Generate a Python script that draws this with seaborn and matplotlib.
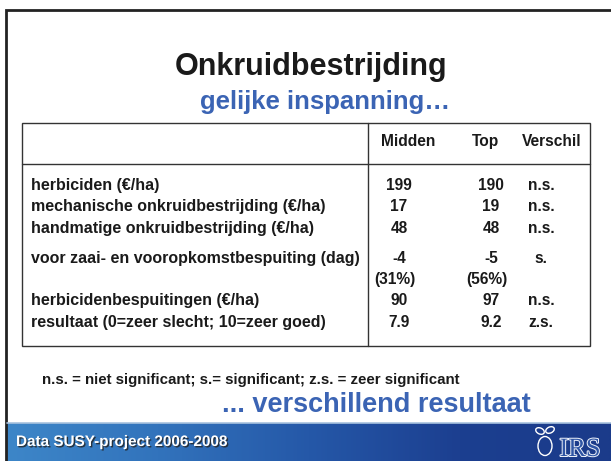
import numpy as np
import matplotlib
matplotlib.use("Agg")
import matplotlib.pyplot as plt
import matplotlib.patheffects as pe
from matplotlib.colors import LinearSegmentedColormap
from matplotlib.patches import Rectangle, Ellipse
import seaborn as sns

# Table content
row_labels = [
    "herbiciden (€/ha)",
    "mechanische onkruidbestrijding (€/ha)",
    "handmatige onkruidbestrijding (€/ha)",
    "voor zaai- en vooropkomstbespuiting (dag)",
    "herbicidenbespuitingen (€/ha)",
    "resultaat (0=zeer slecht; 10=zeer goed)",
]
col_headers = ["Midden", "Top", "Verschil"]
midden = [199, 17, 48, -4, 90, 7.9]
top = [190, 19, 48, -5, 97, 9.2]
midden_pct = [None, None, None, 31, None, None]
top_pct = [None, None, None, 56, None, None]
verschil = ["n.s.", "n.s.", "n.s.", "s.", "n.s.", "z.s."]

title = "Onkruidbestrijding"
subtitle = "gelijke inspanning…"
footnote = "n.s. = niet significant; s.= significant; z.s. = zeer significant"
conclusion = "... verschillend resultaat"
footer = "Data SUSY-project 2006-2008"

# Layout (pixel coordinates of the slide)
W, H = 611, 461
row_y = [185, 206.5, 228, 258, 300, 322.5]
pct_dy = 21
col_x = [399, 491, 541]
header_x = [408, 485, 522]
blue = "#3b64b4"
ink = "#1a1a1a"
fs = 11.2

sns.set_theme(style="white")
plt.rcParams["font.family"] = ["Liberation Sans", "DejaVu Sans"]

fig = plt.figure(figsize=(W / 100, H / 100), dpi=100)
ax = fig.add_axes([0, 0, 1, 1])
ax.set_xlim(0, W)
ax.set_ylim(H, 0)
ax.axis("off")

# slide frame
ax.plot([6, 6, W + 5], [H + 5, 10.5, 10.5], color="#222222", lw=2.0, solid_joinstyle="miter")

# footer band with gradient
cmap = LinearSegmentedColormap.from_list("foot", ["#3d86c8", "#3273bc", "#2558a8", "#1c3f90", "#1b3b8a"])
grad = np.tile(np.linspace(0, 1, 300), (20, 1))
ax.imshow(grad, cmap=cmap, extent=[7, W, H, 423], aspect="auto", zorder=1)
ax.plot([7, W], [423, 423], color="#a8c2de", lw=1.2, zorder=2)
ft = ax.text(16, 442, footer, color="white", fontsize=11, fontweight="bold",
             ha="left", va="center", zorder=3)
ft.set_path_effects([pe.withSimplePatchShadow(offset=(1, -1), shadow_rgbFace="#222222", alpha=0.8)])

# IRS logo
irs = ax.text(580, 456, "IRS", family="Liberation Serif", fontsize=19, color="#2f55a4",
              ha="center", va="baseline", zorder=3)
irs.set_path_effects([pe.Stroke(linewidth=1.4, foreground="#eef2fa"), pe.Normal()])
ax.add_patch(Ellipse((545, 446), 14, 19, fill=False, ec="white", lw=1.0, zorder=3))
ax.add_patch(Ellipse((540, 431), 9, 6, angle=25, fill=False, ec="white", lw=1.0, zorder=3))
ax.add_patch(Ellipse((550, 430), 9, 6, angle=-25, fill=False, ec="white", lw=1.0, zorder=3))

# titles
ax.text(311, 75, title, fontsize=22, fontweight="bold", color=ink,
        ha="center", va="baseline")
ax.text(325, 109, subtitle, fontsize=18.5, fontweight="bold", color=blue,
        ha="center", va="baseline")

# table frame
ax.add_patch(Rectangle((22, 123), 568, 223, fill=False, ec="#333333", lw=1.0))
ax.plot([22, 590], [164.5, 164.5], color="#333333", lw=1.0)
ax.plot([368, 368], [123, 346], color="#333333", lw=1.0)

clip = Rectangle((22, 123), 568, 223, transform=ax.transData)
for x, h in zip(header_x, col_headers):
    ha = "left" if h == "Verschil" else "center"
    t = ax.text(x, 141, h, fontsize=fs, fontweight="bold", color=ink, ha=ha, va="center")
    t.set_clip_path(clip)

def fmt(v):
    return f"{v:g}"

for i, lab in enumerate(row_labels):
    y = row_y[i]
    ax.text(31, y, lab, fontsize=11.5, fontweight="bold", color=ink, ha="left", va="center")
    for x, vals, pcts in ((col_x[0], midden, midden_pct), (col_x[1], top, top_pct)):
        ax.text(x, y, fmt(vals[i]), fontsize=fs, fontweight="bold", color=ink,
                ha="center", va="center")
        if pcts[i] is not None:
            ax.text(x - 4, y + pct_dy, f"({pcts[i]}%)", fontsize=fs, fontweight="bold",
                    color=ink, ha="center", va="center")
    ax.text(col_x[2], y, verschil[i], fontsize=fs, fontweight="bold", color=ink,
            ha="center", va="center")

# footnote and conclusion
ax.text(42, 380, footnote, fontsize=10.8, fontweight="bold", color=ink,
        ha="left", va="center")
ax.text(376, 412, conclusion, fontsize=19.5, fontweight="bold", color=blue,
        ha="center", va="baseline")

fig.savefig("out.png", dpi=100)
